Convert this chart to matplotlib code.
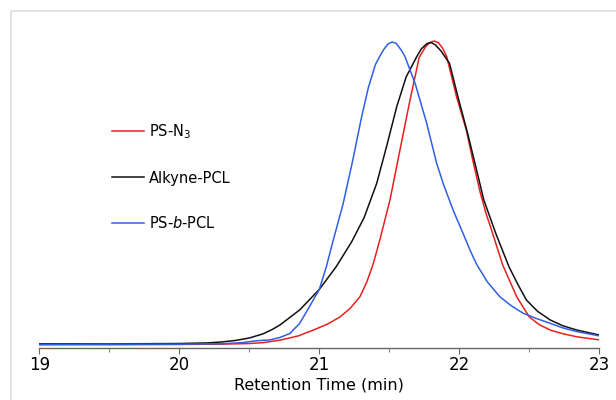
import matplotlib
matplotlib.use('Agg')
from matplotlib import pyplot as plt
from matplotlib.patches import Rectangle

# GPC traces (retention time in min, normalised RI signal)
red_t = [19.0, 19.5, 20.0, 20.3, 20.5, 20.6, 20.72, 20.85, 20.957, 21.06, 21.148, 21.22, 21.29, 21.34,
         21.386, 21.434, 21.47, 21.505, 21.576, 21.648, 21.714, 21.76, 21.79, 21.82, 21.85, 21.88,
         21.91, 21.98, 22.05, 22.1, 22.148, 22.19, 22.23, 22.31, 22.41, 22.5, 22.57, 22.65, 22.74,
         22.84, 23.0]
red_y = [0.009, 0.009, 0.010, 0.011, 0.013, 0.016, 0.024, 0.038, 0.057, 0.077, 0.1, 0.128, 0.166, 0.215,
         0.275, 0.355, 0.42, 0.483, 0.646, 0.81, 0.95, 0.985, 0.998, 1.003, 0.998, 0.98,
         0.952, 0.821, 0.712, 0.605, 0.51, 0.44, 0.385, 0.27, 0.166, 0.1, 0.075, 0.057, 0.045,
         0.035, 0.025]

black_t = [19.0, 19.5, 20.0, 20.2, 20.3, 20.4, 20.5, 20.6, 20.66, 20.72, 20.86, 21.0, 21.12, 21.23,
           21.32, 21.41, 21.48, 21.553, 21.62, 21.696, 21.73, 21.77, 21.80, 21.83, 21.87, 21.93,
           21.99, 22.06, 22.124, 22.175, 22.26, 22.355, 22.42, 22.48, 22.56, 22.65, 22.74, 22.84, 23.0]
black_y = [0.012, 0.012, 0.013, 0.015, 0.018, 0.023, 0.031, 0.045, 0.058, 0.074, 0.123, 0.19, 0.264, 0.345,
           0.425, 0.537, 0.657, 0.788, 0.885, 0.952, 0.978, 0.995, 0.998, 0.99, 0.97, 0.93,
           0.821, 0.70, 0.58, 0.483, 0.374, 0.264, 0.205, 0.155, 0.118, 0.09, 0.071, 0.057, 0.041]

blue_t = [19.0, 19.5, 20.0, 20.3, 20.45, 20.55, 20.65, 20.72, 20.79, 20.86, 20.93, 21.0, 21.05, 21.1,
          21.17, 21.24, 21.3, 21.35, 21.40, 21.434, 21.46, 21.49, 21.52, 21.55, 21.59, 21.612, 21.684,
          21.767, 21.838, 21.89, 21.96, 22.03, 22.08, 22.124, 22.2, 22.29, 22.37, 22.457, 22.55,
          22.65, 22.74, 22.84, 23.0]
blue_y = [0.010, 0.011, 0.011, 0.012, 0.016, 0.022, 0.025, 0.033, 0.046, 0.079, 0.134, 0.19, 0.264, 0.352,
          0.47, 0.615, 0.75, 0.85, 0.925, 0.955, 0.975, 0.993, 1.0, 0.995, 0.97, 0.952, 0.865,
          0.734, 0.603, 0.53, 0.445, 0.37, 0.315, 0.272, 0.215, 0.166, 0.137, 0.112, 0.095,
          0.079, 0.064, 0.052, 0.038]

labels = ['PS-N$_3$', 'Alkyne-PCL', r'PS-$\mathit{b}$-PCL']
colors = ['#e8211f', '#111111', '#2f5fe6']

fig = plt.figure(figsize=(6.16, 4.0), dpi=100)
fig.add_artist(Rectangle((11/616, -0.1), 1.0, 1.1 - 11/400, transform=fig.transFigure,
                         fill=False, edgecolor='#dddddd', linewidth=1.2))
ax = fig.add_axes([39.3/616, 52.5/400, 560/616, 335.5/400])

for t, y, lab, c in zip([red_t, black_t, blue_t], [red_y, black_y, blue_y], labels, colors):
    ax.plot(t, y, color=c, lw=1.1, label=lab)

ax.set_xlim(19, 23)
ax.set_ylim(0, 1.098)
for s in ['top', 'right', 'left']:
    ax.spines[s].set_visible(False)
ax.spines['bottom'].set_color('#666666')
ax.spines['bottom'].set_linewidth(1.0)
ax.set_yticks([])
ax.set_xticks([19, 20, 21, 22, 23])
ax.set_xticks([19.5, 20.5, 21.5, 22.5], minor=True)
ax.tick_params(axis='x', which='major', direction='out', length=4, color='#666666', labelsize=12, pad=2)
ax.tick_params(axis='x', which='minor', direction='out', length=3, color='#666666')
ax.set_xlabel('Retention Time (min)', fontsize=11.5, labelpad=3)

ax.legend(frameon=False, loc='upper left', bbox_to_anchor=(112/616, 1 - 122/400),
          bbox_transform=fig.transFigure, fontsize=10.5, handlelength=2.2, handletextpad=0.35,
          labelspacing=2.05, borderpad=0, borderaxespad=0)

plt.savefig('out.png', dpi=100)
